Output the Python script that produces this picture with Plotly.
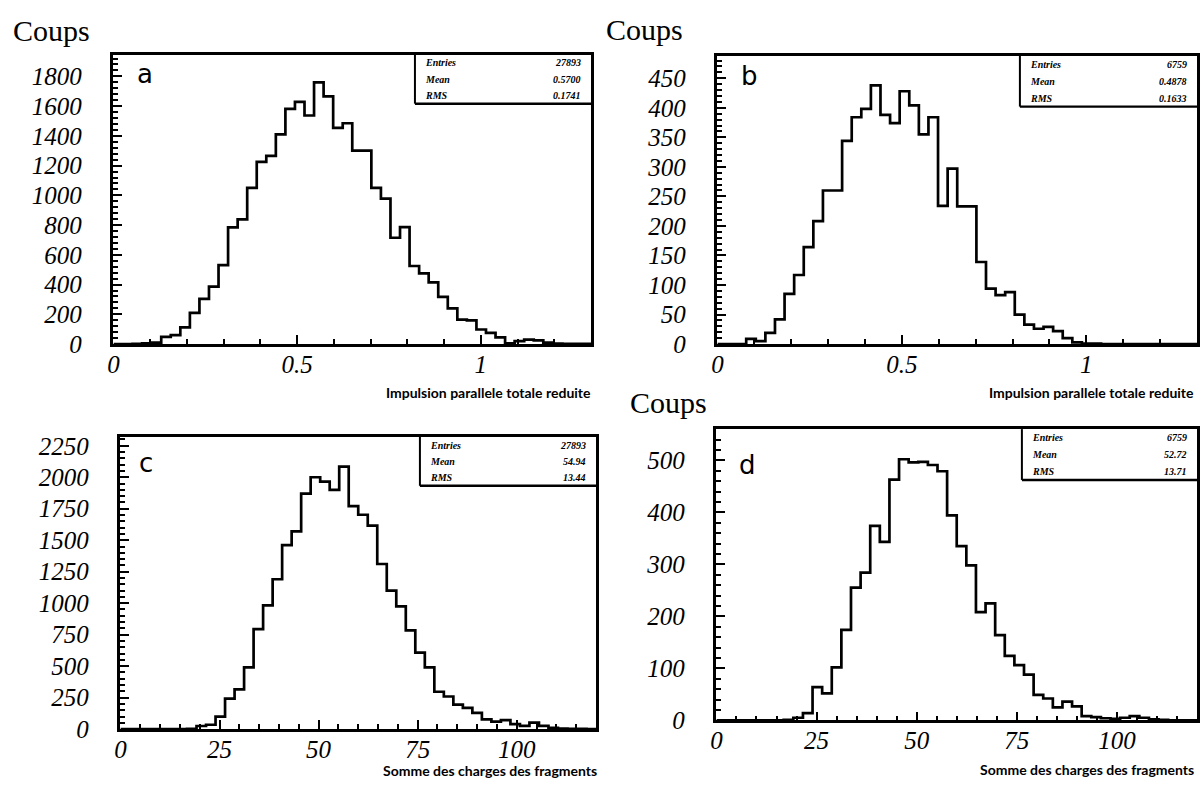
import numpy as np
import plotly.graph_objects as go

W, H = 1200, 792

# ---------------- data ----------------
n_bins = 50
range_pt = [0.0, 1.3]      # reduced total parallel momentum
range_z = [0.0, 120.0]     # sum of fragment charges

counts_a = [0, 0, 2, 5, 10, 48, 60, 113, 210, 304,
            387, 531, 785, 838, 1050, 1225, 1266, 1410, 1581, 1629,
            1537, 1760, 1666, 1454, 1485, 1301, 1301, 1050, 978, 715,
            787, 525, 475, 415, 317, 240, 165, 160, 98, 75,
            45, 5, 20, 30, 25, 10, 3, 2, 2, 2]

counts_b = [0, 0, 0, 9, 5, 19, 42, 85, 117, 164,
            208, 260, 260, 344, 384, 398, 438, 388, 374, 428,
            404, 355, 384, 234, 297, 233, 233, 139, 94, 83,
            88, 50, 33, 26, 29, 22, 10, 3, 1, 1,
            0, 0, 0, 0, 0, 0, 0, 0, 0, 0]

counts_c = [0, 0, 0, 0, 0, 0, 0, 3, 25, 35,
            100, 243, 316, 491, 794, 983, 1190, 1461, 1570, 1870,
            2000, 1965, 1900, 2085, 1771, 1702, 1616, 1311, 1099, 975,
            784, 608, 491, 297, 259, 194, 168, 129, 78, 60,
            72, 39, 26, 52, 26, 10, 5, 3, 2, 1]

counts_d = [0, 0, 0, 0, 0, 0, 0, 1, 5, 14,
            64, 52, 102, 174, 255, 284, 374, 343, 463, 502,
            496, 497, 491, 479, 394, 335, 298, 208, 225, 164,
            124, 106, 88, 49, 42, 25, 36, 27, 8, 6,
            4, 3, 5, 8, 5, 2, 1, 0, 0, 0]

# tick values / labels
xticks_pt = [0, 0.5, 1]
xticklabels_pt = ["0", "0.5", "1"]
xticks_z = [0, 25, 50, 75, 100]
xticklabels_z = ["0", "25", "50", "75", "100"]
yticks_a = [0, 200, 400, 600, 800, 1000, 1200, 1400, 1600, 1800]
yticks_b = [0, 50, 100, 150, 200, 250, 300, 350, 400, 450]
yticks_c = [0, 250, 500, 750, 1000, 1250, 1500, 1750, 2000, 2250]
yticks_d = [0, 100, 200, 300, 400, 500]

y_label = "Coups"
title_pt = "Impulsion parallele totale reduite"
title_z = "Somme des charges des fragments"
panel_letters = ["a", "b", "c", "d"]
stats_names = ["Entries", "Mean", "RMS"]
stats_a = ["27893", "0.5700", "0.1741"]
stats_b = ["6759", "0.4878", "0.1633"]
stats_c = ["27893", "54.94", "13.44"]
stats_d = ["6759", "52.72", "13.71"]

# ---------------- layout helpers ----------------
def px_x(x):
    return x / W

def px_y(y):
    return 1 - y / H

def ital(vals):
    return ["<i>%s</i>" % v for v in vals]

panels = [
    dict(counts=counts_a, xr=range_pt, yr=[0, 1945], yt=yticks_a, ymn=40,
         xt=xticks_pt, xl=xticklabels_pt, xmn=0.1,
         box=(108, 588, 52, 348), stats=stats_a, sbox=(411, 102), letter=(140, 72),
         title=title_pt, title_pos=(590, 398)),
    dict(counts=counts_b, xr=range_pt, yr=[0, 488], yt=yticks_b, ymn=10,
         xt=xticks_pt, xl=xticklabels_pt, xmn=0.1,
         box=(715, 1197, 53, 348), stats=stats_b, sbox=(1019, 105), letter=(747, 74),
         title=title_pt, title_pos=(1196, 398)),
    dict(counts=counts_c, xr=range_z, yr=[0, 2320], yt=yticks_c, ymn=50,
         xt=xticks_z, xl=xticklabels_z, xmn=5,
         box=(115, 593, 443, 742), stats=stats_c, sbox=(416, 493), letter=(141, 470),
         title=title_z, title_pos=(596, 784)),
    dict(counts=counts_d, xr=range_z, yr=[0, 560], yt=yticks_d, ymn=20,
         xt=xticks_z, xl=xticklabels_z, xmn=5,
         box=(714, 1197, 435, 733), stats=stats_d, sbox=(1021, 487), letter=(745, 472),
         title=title_z, title_pos=(1196, 783)),
]

tick_font = dict(family="Liberation Serif", size=25, color="black")

fig = go.Figure()
annotations = []
shapes = []

for i, p in enumerate(panels):
    n = i + 1
    xa = "x" if n == 1 else f"x{n}"
    ya = "y" if n == 1 else f"y{n}"
    edges = np.linspace(p["xr"][0], p["xr"][1], n_bins + 1)
    ys = list(p["counts"]) + [p["counts"][-1]]
    fig.add_trace(go.Scatter(x=edges, y=ys, mode="lines", line_shape="hv",
                             line=dict(color="black", width=2.7),
                             xaxis=xa, yaxis=ya, showlegend=False, hoverinfo="skip"))
    l, r, t, b = p["box"]
    common = dict(showline=True, linewidth=2.6, linecolor="black", mirror=True,
                  ticks="inside", ticklen=9, tickwidth=1.8, tickcolor="black",
                  showgrid=False, zeroline=False, tickfont=tick_font,
                  tickmode="array")
    fig.update_layout(**{
        ("xaxis" if n == 1 else f"xaxis{n}"): dict(
            domain=[px_x(l), px_x(r)], range=p["xr"],
            tickvals=p["xt"], ticktext=ital(p["xl"]),
            anchor=ya, ticklabelstandoff=-4,
            minor=dict(tickmode="linear", tick0=0, dtick=p["xmn"], ticks="inside",
                       ticklen=5, tickwidth=1.5, tickcolor="black"),
            **common),
        ("yaxis" if n == 1 else f"yaxis{n}"): dict(
            domain=[px_y(b), px_y(t)], range=p["yr"],
            tickvals=p["yt"], ticktext=ital(p["yt"]),
            anchor=xa, ticklabelstandoff=24,
            minor=dict(tickmode="linear", tick0=0, dtick=p["ymn"], ticks="inside",
                       ticklen=5, tickwidth=1.5, tickcolor="black"),
            **common),
    })
    # axis title
    tx, ty = p["title_pos"]
    annotations.append(dict(x=px_x(tx), y=px_y(ty), xref="paper", yref="paper",
                            text=p["title"], showarrow=False, xanchor="right", yanchor="middle",
                            font=dict(family="Lato", size=14, color="black", weight="bold")))
    # panel letter
    lx, ly = p["letter"]
    annotations.append(dict(x=px_x(lx), y=px_y(ly), xref="paper", yref="paper",
                            text=panel_letters[i], showarrow=False, xanchor="center", yanchor="middle",
                            font=dict(family="DejaVu Sans", size=26, color="black")))
    # stats box
    sx, sb = p["sbox"]
    shapes.append(dict(type="line", xref="paper", yref="paper",
                       x0=px_x(sx), x1=px_x(sx), y0=px_y(t), y1=px_y(sb),
                       line=dict(color="black", width=2)))
    shapes.append(dict(type="line", xref="paper", yref="paper",
                       x0=px_x(sx), x1=px_x(r), y0=px_y(sb), y1=px_y(sb),
                       line=dict(color="black", width=2.4)))
    row_h = (sb - t) / 3.0
    for k in range(3):
        yy = t + row_h * (k + 0.5)
        annotations.append(dict(x=px_x(sx + 8), y=px_y(yy), xref="paper", yref="paper",
                                text=stats_names[k], showarrow=False, xanchor="left", yanchor="middle",
                                font=dict(family="Liberation Serif", size=10, color="black",
                                          weight="bold", style="italic")))
        annotations.append(dict(x=px_x(r - 8), y=px_y(yy), xref="paper", yref="paper",
                                text=p["stats"][k], showarrow=False, xanchor="right", yanchor="middle",
                                font=dict(family="Liberation Serif", size=10, color="black",
                                          weight="bold", style="italic")))

# "Coups" labels
for (cx, cy) in [(5, 27), (601, 26), (625, 408)]:
    annotations.append(dict(x=px_x(cx), y=px_y(cy), xref="paper", yref="paper",
                            text=y_label, showarrow=False, xanchor="left", yanchor="middle",
                            font=dict(family="Liberation Serif", size=30, color="black")))

fig.update_layout(width=W, height=H, margin=dict(l=0, r=0, t=0, b=0),
                  paper_bgcolor="white", plot_bgcolor="white",
                  annotations=annotations, shapes=shapes, showlegend=False)

fig.write_html("out.html", config={"displayModeBar": False},
               post_script="document.body.style.margin='0';document.body.style.overflow='hidden';")
